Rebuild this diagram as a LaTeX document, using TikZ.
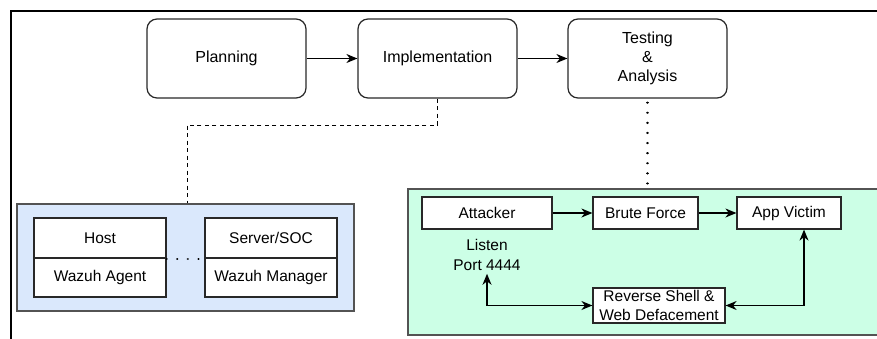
\documentclass[tikz,border=0pt]{standalone}
\usepackage{fontspec}
\setmainfont{Liberation Sans}
\usetikzlibrary{arrows.meta}
\definecolor{bluefill}{RGB}{218,232,252}
\definecolor{greenfill}{RGB}{204,255,230}
\definecolor{edgegray}{RGB}{40,40,40}
\tikzset{
  phase/.style={draw=edgegray, line width=1.2pt, rounded corners=10pt, fill=white, align=center, inner sep=0pt,
    minimum width=159pt, minimum height=79pt, font=\fontsize{16}{19}\selectfont},
  plainbox/.style={draw=edgegray, line width=1.2pt, fill=white, align=center, inner sep=0pt,
    font=\fontsize{15.5}{19}\selectfont},
  group/.style={draw=edgegray!80, line width=1.2pt, inner sep=0pt},
  arr/.style={line width=1.3pt, -{Stealth[length=11pt,width=9pt,inset=3.5pt]}},
  dblarr/.style={line width=1.3pt, {Stealth[length=11pt,width=9pt,inset=3.5pt]}-{Stealth[length=11pt,width=9pt,inset=3.5pt]}},
  txt/.style={align=center, inner sep=0pt, font=\fontsize{15.5}{20}\selectfont}
}
\begin{document}
\begin{tikzpicture}[x=1pt,y=-1pt]
\useasboundingbox (0,0) rectangle (877,338);
\clip (0,0) rectangle (877,338);
% outer frame
\draw[line width=1.6pt, black] (11,11) rectangle (900,360);
% groups
\node[group, fill=bluefill, minimum width=337pt, minimum height=107pt] (blue) at (185.5,257.5) {};
\node[group, fill=greenfill, minimum width=482pt, minimum height=146pt] (green) at (649,262) {};
% phases
\node[phase] (plan) at (226.5,58.5) {Planning};
\node[phase] (impl) at (437.5,58.5) {Implementation};
\node[phase] (test) at (647.5,58.5) {Testing\\\&\\Analysis};
\draw[arr] (plan) -- (impl);
\draw[arr] (impl) -- (test);
% host / server
\node[plainbox, minimum width=132pt, minimum height=40pt] (hosttop) at (100,238) {Host};
\node[plainbox, minimum width=132pt, minimum height=39pt] (hostbot) at (100,277.5) {Wazuh Agent};
\node[plainbox, minimum width=132pt, minimum height=40pt] (servtop) at (271,238) {Server/SOC};
\node[plainbox, minimum width=132pt, minimum height=39pt] (servbot) at (271,277.5) {Wazuh Manager};
\draw[line width=2.2pt, dash pattern=on 0.1pt off 10.5pt, line cap=round] (hosttop.south east) -- (servtop.south west);
% dashed link implementation -> blue group
\coordinate (dj) at (187,125);
\draw[line width=1pt, dash pattern=on 4pt off 3.5pt] (impl.south) |- (dj) -- (dj |- blue.north);
% dotted link testing -> green group
\draw[line width=2.2pt, dash pattern=on 0.1pt off 10pt, line cap=round] ([yshift=-4pt]test.south) -- (test.south |- green.north);
% attack flow
\node[plainbox, minimum width=130pt, minimum height=32pt] (att) at (487,213) {Attacker};
\node[plainbox, minimum width=105pt, minimum height=32pt] (brute) at (645.5,213) {Brute Force};
\node[plainbox, minimum width=104pt, minimum height=32pt] (app) at (789,213) {App Victim};
\draw[arr] (att) -- (brute);
\draw[arr] (brute) -- (app);
\node[txt, anchor=north] (listen) at (487,239) {Listen\\Port 4444};
\node[plainbox, minimum width=132pt, minimum height=35pt, font=\fontsize{15.5}{18.5}\selectfont] (rev) at (659,305.5) {Reverse Shell \&\\Web Defacement};
\draw[dblarr] ([yshift=-3pt]listen.south) |- (rev.west);
\draw[dblarr] ([xshift=15pt]app.south) |- (rev.east);
\end{tikzpicture}
\end{document}
